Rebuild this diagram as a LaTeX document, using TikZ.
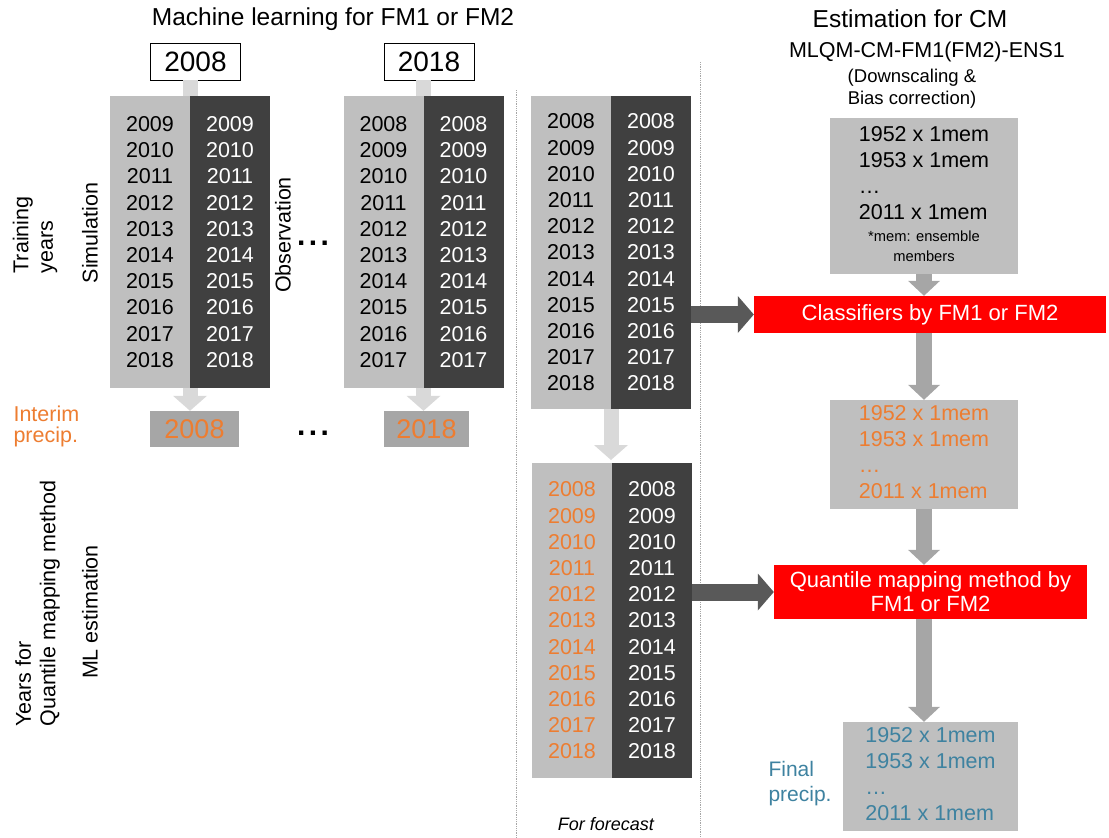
\documentclass[tikz,border=0pt]{standalone}
\usepackage{fontspec}
\setmainfont{Liberation Sans}
\usepackage{xcolor}
\definecolor{colorSim}{HTML}{BFBFBF}
\definecolor{colorObs}{HTML}{404040}
\definecolor{colorInterim}{HTML}{ED7D31}
\definecolor{colorFinal}{HTML}{3E82A0}
\definecolor{colorLightArrow}{HTML}{D9D9D9}
\definecolor{colorArrow}{HTML}{A6A6A6}
\definecolor{colorDarkArrow}{HTML}{595959}
\definecolor{colorMethod}{HTML}{FF0000}
\usepackage{tikz}
\usetikzlibrary{arrows.meta, positioning}
\newcommand{\sizefont}[2]{\fontsize{#1}{#2}\selectfont}
\tikzset{
  yearcol/.style={inner sep=0pt, outer sep=0pt, minimum width=80pt, align=center, font=\sizefont{21.5}{26.2}},
  simcol/.style={yearcol, fill=colorSim},
  obscol/.style={yearcol, fill=colorObs, text=white},
  yearbox/.style={draw=black, line width=0.8pt, fill=white, inner sep=0pt, minimum width=90pt, minimum height=37pt, font=\sizefont{28}{32}},
  interimbox/.style={fill=colorArrow, text=colorInterim, inner sep=0pt, minimum height=36pt, font=\sizefont{27}{32}},
  cmbox/.style={fill=colorSim, inner sep=0pt, minimum width=188pt, font=\sizefont{21.5}{26}},
  methodbox/.style={fill=colorMethod, text=white, inner sep=0pt, align=center, font=\sizefont{22}{24}},
  sidelabel/.style={rotate=90, align=left, font=\sizefont{21.5}{24.5}},
  lightbar/.style={colorLightArrow, line width=15pt},
  lightarrow/.style={colorLightArrow, line width=15pt, -{Triangle[length=15pt, width=34pt, line width=0pt]}},
  grayarrow/.style={colorArrow, line width=16pt, -{Triangle[length=15pt, width=32pt, line width=0pt]}},
  darkarrow/.style={colorDarkArrow, line width=17pt, -{Triangle[length=16pt, width=37pt, line width=0pt]}},
  separator/.style={colorArrow, densely dotted, line width=0.8pt},
}

\begin{document}
\begin{tikzpicture}[x=1pt, y=-1pt]
\useasboundingbox (0,0) rectangle (1109,838);

% headings
\node[font=\sizefont{24.5}{28}] (mlTitle) at (333,19) {Machine learning for FM1 or FM2};
\node[font=\sizefont{24.5}{28}] (cmTitle) at (910,19) {Estimation for CM};
\node[font=\sizefont{21.5}{24}] (cmName) at (927,52) {MLQM-CM-FM1(FM2)-ENS1};
\node[align=center, font=\sizefont{18.5}{22}] (cmNote) at (912,89) {(Downscaling \&\\Bias correction)};

\draw[separator] (516,90) -- (516,838);
\draw[separator] (700,62) -- (700,838);

% side labels
\node[sidelabel] (trainLabel) at (35,235) {Training\\years};
\node[sidelabel] (simLabel) at (90,233) {Simulation};
\node[sidelabel] (obsLabel) at (283,235) {Observation};
\node[sidelabel] (qmLabel) at (37.5,603.5) {Years for\\Quantile mapping method};
\node[sidelabel] (mlLabel) at (90,612) {ML estimation};
\node[align=left, anchor=west, text=colorInterim, font=\sizefont{21.5}{21}] (interimLabel) at (10,426) {Interim\\precip.};

% learning with 2008 left out
\node[yearbox] (top1) at (195.5,61.5) {2008};
\node[simcol, minimum height=292pt] (sim1) at (150,242) {2009\\2010\\2011\\2012\\2013\\2014\\2015\\2016\\2017\\2018};
\node[obscol, minimum height=292pt, right=0pt of sim1] (obs1) {2009\\2010\\2011\\2012\\2013\\2014\\2015\\2016\\2017\\2018};
\node[interimbox, minimum width=89pt] (int1) at (194.5,429) {2008};
\draw[lightbar] (sim1.north east |- top1.south) -- (sim1.north east);
\draw[lightarrow] (sim1.south east) -- (sim1.south east |- int1.north);

% learning with 2018 left out
\node[yearbox] (top2) at (429,61.5) {2018};
\node[simcol, minimum height=292pt] (sim2) at (383.5,242) {2008\\2009\\2010\\2011\\2012\\2013\\2014\\2015\\2016\\2017};
\node[obscol, minimum height=292pt, right=0pt of sim2] (obs2) {2008\\2009\\2010\\2011\\2012\\2013\\2014\\2015\\2016\\2017};
\node[interimbox, minimum width=85pt] (int2) at (426.5,429) {2018};
\draw[lightbar] (sim2.north east |- top2.south) -- (sim2.north east);
\draw[lightarrow] (sim2.south east) -- (sim2.south east |- int2.north);

\node[font=\sizefont{30}{30}\bfseries] (dots1) at (313,243) {.\hspace{3.5pt}.\hspace{3.5pt}.};
\node[font=\sizefont{30}{30}\bfseries] (dots2) at (313,433) {.\hspace{3.5pt}.\hspace{3.5pt}.};

% for forecast
\node[simcol, minimum height=313pt] (fcsim) at (571,252.5) {2008\\2009\\2010\\2011\\2012\\2013\\2014\\2015\\2016\\2017\\2018};
\node[obscol, minimum height=313pt, right=0pt of fcsim] (fcobs) {2008\\2009\\2010\\2011\\2012\\2013\\2014\\2015\\2016\\2017\\2018};
\node[simcol, minimum height=315pt, text=colorInterim] (lfsim) at (572,620.5) {2008\\2009\\2010\\2011\\2012\\2013\\2014\\2015\\2016\\2017\\2018};
\node[obscol, minimum height=315pt, right=0pt of lfsim] (lfobs) {2008\\2009\\2010\\2011\\2012\\2013\\2014\\2015\\2016\\2017\\2018};
\node[font=\sizefont{18}{20}\itshape] (forecast) at (606,824) {For forecast};
\draw[lightarrow, shorten >=3pt] (fcsim.south east) -- (fcsim.south east |- lfsim.north);

% estimation for CM
\node[cmbox, minimum height=156pt] (cmIn) at (924,196) {\begin{tabular}{@{}l@{}}1952 x 1mem\\1953 x 1mem\\\ldots\\2011 x 1mem\\[-4pt]\multicolumn{1}{@{}c@{}}{\sizefont{14.7}{19}*mem: ensemble}\\[-6pt]\multicolumn{1}{@{}c@{}}{\sizefont{14.7}{19}members}\end{tabular}};
\node[methodbox, minimum width=352pt, minimum height=37pt] (cls) at (930,314.5) {Classifiers by FM1 or FM2};
\node[cmbox, minimum height=109pt, text=colorInterim] (cmInterim) at (924,454.5) {\begin{tabular}{@{}l@{}}1952 x 1mem\\1953 x 1mem\\\ldots\\2011 x 1mem\end{tabular}};
\node[methodbox, minimum width=313pt, minimum height=54pt] (qm) at (930.5,592) {Quantile mapping method by\\FM1 or FM2};
\node[cmbox, minimum width=175pt, minimum height=109pt, text=colorFinal] (cmFinal) at (930.5,776.5) {\begin{tabular}{@{}l@{}}1952 x 1mem\\1953 x 1mem\\\ldots\\2011 x 1mem\end{tabular}};
\node[align=left, anchor=west, text=colorFinal, font=\sizefont{21}{25}] (finalLabel) at (765,784) {Final\\precip.};

\draw[darkarrow] (cls.west -| fcobs.east) -- (cls.west);
\draw[darkarrow] (qm.west -| lfobs.east) -- (qm.west);
\draw[grayarrow] (cmIn.south) -- (cls.north -| cmIn.south);
\draw[grayarrow] (cls.south -| cmIn.south) -- (cmInterim.north);
\draw[grayarrow] (cmInterim.south) -- (qm.north -| cmInterim.south);
\draw[grayarrow] (qm.south -| cmInterim.south) -- (cmFinal.north -| cmInterim.south);
\end{tikzpicture}
\end{document}
